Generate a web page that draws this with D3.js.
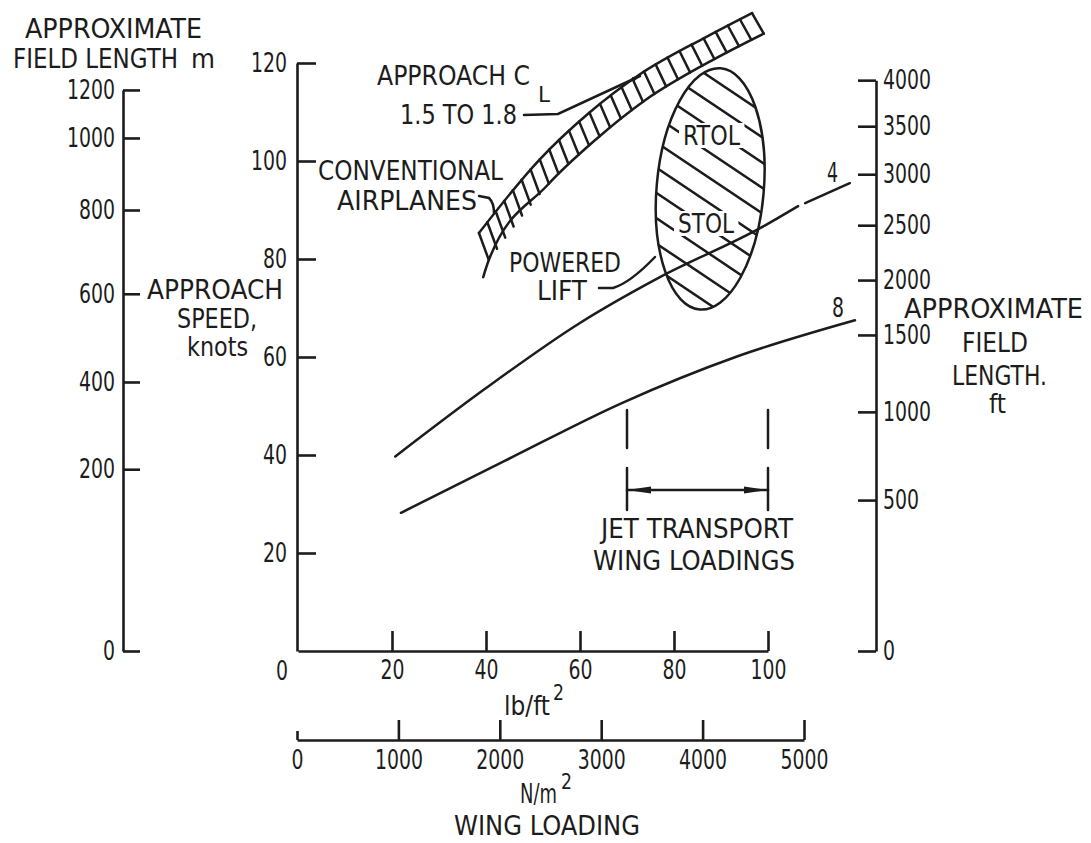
<!DOCTYPE html>
<html>
<head>
<meta charset="utf-8">
<title>Approach speed and field length vs wing loading</title>
<script src="https://cdn.jsdelivr.net/npm/d3@7/dist/d3.min.js"></script>
<style>
  body { margin: 0; background: #fff; }
  svg { display: block; background: #fff; }
  text { font-family: "DejaVu Sans Condensed", "Liberation Sans", sans-serif; fill: #1c1c1c; }
  .axis path, .axis line { stroke: #1c1c1c; stroke-width: 2.6; }
  .axis text { font-size: 27px; font-family: "DejaVu Sans Condensed", "Liberation Sans", sans-serif; }
  .lbl { font-size: 27px; }
  .ink { fill: none; stroke: #1c1c1c; stroke-width: 2.5; stroke-linecap: round; }
</style>
</head>
<body>
<svg id="chart" width="1091" height="843"></svg>
<script>
// approach speed (knots) and wing loading (lb/ft2, N/m2) ticks
var speedTicks = [20, 40, 60, 80, 100, 120];
var lbTicks = [20, 40, 60, 80, 100];
var nmTicks = [0, 1000, 2000, 3000, 4000, 5000];

// field length ticks, with the approach speed each one lines up with
var fieldM = [0, 200, 400, 600, 800, 1000, 1200];
var fieldMKnots = [0, 37.1, 54.9, 72.9, 90, 104.7, 114.5];
var fieldFt = [0, 500, 1000, 1500, 2000, 2500, 3000, 3500, 4000];
var fieldFtKnots = [0, 30.8, 48.8, 64.5, 75.7, 86.9, 97.3, 107.1, 116.5];

// curve "4" (drawn in two pieces, there is a break near 107 lb/ft2)
var load4a = [20.7, 39.5, 59.9, 77, 98.7, 106.4];
var speed4a = [39.7, 53.3, 66.9, 76.3, 86.5, 90.8];
var load4b = [107.9, 117.4];
var speed4b = [91.4, 95.5];
// curve "8"
var load8 = [21.9, 44.4, 68.9, 93.4, 118.5];
var speed8 = [28.2, 39, 50.6, 60.1, 67.5];

// conventional airplanes band, approach CL 1.5 (upper edge) and 1.8 (lower edge)
var loadCL15 = [38.5, 51.3, 61.9, 72.6, 86.8, 96.6];
var speedCL15 = [85.3, 100.2, 109.8, 117.6, 125.3, 130.2];
var loadCL18 = [39.4, 40.6, 53, 63.5, 74, 88, 99.1];
var speedCL18 = [76.3, 79.8, 95, 104.5, 112.5, 120.5, 126];

// powered lift region: centre and half sizes (lb/ft2, knots)
var liftCenter = [87.7, 94.3];
var liftHalf = [11.4, 24.7];

// jet transport wing loadings
var jetRange = [70, 100];

var svg = d3.select("#chart");
var defs = svg.append("defs");

var x = d3.scaleLinear().domain([0, 100]).range([298, 768]);
var y = d3.scaleLinear().domain([0, 120]).range([651, 63]);
var xN = d3.scaleLinear().domain([0, 5000]).range([297, 804]);
var yM = d3.scaleLinear().domain(fieldM).range(fieldMKnots.map(y));
var yFt = d3.scaleLinear().domain(fieldFt).range(fieldFtKnots.map(y));

// the lettering on the original is narrow, so squeeze glyphs to the measured width
function squeeze(sel, w) {
  sel.attr("textLength", w).attr("lengthAdjust", "spacingAndGlyphs");
}
function cleanAxis(g) {
  g.attr("font-size", null).attr("font-family", null);
  g.selectAll("text").each(function(d) {
    squeeze(d3.select(this), String(d).length * 12);
  });
}

// main speed axis
svg.append("g").attr("class", "axis").attr("transform", "translate(297,0)")
  .call(d3.axisLeft(y).tickValues(speedTicks).tickFormat(d3.format("d"))
    .tickSizeInner(-19).tickSizeOuter(0).tickPadding(10))
  .call(cleanAxis);

// field length, metres
svg.append("g").attr("class", "axis").attr("transform", "translate(123,0)")
  .call(d3.axisLeft(yM).tickValues(fieldM).tickFormat(d3.format("d"))
    .tickSizeInner(-17).tickSizeOuter(0).tickPadding(8))
  .call(cleanAxis);

// field length, feet
svg.append("g").attr("class", "axis").attr("transform", "translate(876,0)")
  .call(d3.axisRight(yFt).tickValues(fieldFt).tickFormat(d3.format("d"))
    .tickSizeInner(-18).tickSizeOuter(0).tickPadding(7))
  .call(cleanAxis);

// wing loading lb/ft2
svg.append("g").attr("class", "axis").attr("transform", "translate(0,651)")
  .call(d3.axisBottom(x).tickValues(lbTicks).tickFormat(d3.format("d"))
    .tickSizeInner(-20).tickSizeOuter(0).tickPadding(9))
  .call(cleanAxis);
svg.append("text").attr("x", x(0) - 16).attr("y", 680)
  .attr("text-anchor", "middle").style("font-size", "27px").call(squeeze, 12).text("0");

// wing loading N/m2
var nAxis = svg.append("g").attr("class", "axis").attr("transform", "translate(0,740)")
  .call(d3.axisBottom(xN).tickValues(nmTicks).tickFormat(d3.format("d"))
    .tickSizeInner(-20).tickSizeOuter(0).tickPadding(10))
  .call(cleanAxis);
nAxis.selectAll(".tick line").filter(function(d) { return d === 0; }).attr("y2", -9);

// curves
var line = d3.line().x(function(d) { return x(d[0]); }).y(function(d) { return y(d[1]); })
  .curve(d3.curveMonotoneX);
function pairs(xs, ys) { return xs.map(function(v, i) { return [v, ys[i]]; }); }

svg.append("path").attr("class", "ink").attr("d", line(pairs(load4a, speed4a)));
svg.append("path").attr("class", "ink").attr("d", line(pairs(load4b, speed4b)));
svg.append("path").attr("class", "ink").attr("d", line(pairs(load8, speed8)));

// conventional band
var upper = pairs(loadCL15, speedCL15);
var lower = pairs(loadCL18, speedCL18);
var upPath = svg.append("path").attr("class", "ink").attr("stroke-width", 2.8).attr("d", line(upper));
svg.append("path").attr("class", "ink").attr("stroke-width", 2.8).attr("d", line(lower));
var lowBand = svg.append("path").attr("d", line(lower.slice(1))).attr("fill", "none").attr("stroke", "none");
var uNode = upPath.node(), lNode = lowBand.node();
var uLen = uNode.getTotalLength(), lLen = lNode.getTotalLength();
var nStripes = 26;
for (var i = 0; i <= nStripes; i++) {
  var f = i / nStripes;
  var p = uNode.getPointAtLength(f * uLen);
  var q = lNode.getPointAtLength(f * lLen);
  svg.append("line").attr("class", "ink").attr("stroke-width", (i === 0 || i === nStripes) ? 2.6 : 2)
    .attr("x1", p.x).attr("y1", p.y).attr("x2", q.x).attr("y2", q.y);
}

// powered lift ellipse
var cx = x(liftCenter[0]), cy = y(liftCenter[1]);
var rx = x(liftCenter[0] + liftHalf[0]) - cx;
var ry = cy - y(liftCenter[1] + liftHalf[1]);
var ell = svg.append("g").attr("transform", "rotate(5," + cx + "," + cy + ")");
defs.append("clipPath").attr("id", "liftClip")
  .append("ellipse").attr("cx", cx).attr("cy", cy).attr("rx", rx).attr("ry", ry);
var hatch = ell.append("g").attr("clip-path", "url(#liftClip)");
for (var k = -6; k <= 6; k++) {
  var off = k * 24;
  hatch.append("line").attr("class", "ink").attr("stroke-width", 1.9)
    .attr("x1", cx - 90).attr("y1", cy + off - 0.55 * 90 - 10)
    .attr("x2", cx + 90).attr("y2", cy + off + 0.55 * 90 - 10);
}
ell.append("ellipse").attr("class", "ink").attr("stroke-width", 2.8)
  .attr("cx", cx).attr("cy", cy).attr("rx", rx).attr("ry", ry);

function label(txt, tx, ty, anchor, w, size) {
  var t = svg.append("text").attr("class", "lbl").attr("x", tx).attr("y", ty)
    .attr("text-anchor", anchor || "start")
    .style("font-size", (size || 27) + "px")
    .text(txt);
  if (w) t.call(squeeze, w);
  return t;
}
// text with a raised or lowered tail, kept as one text element
function withTail(main, tail, tx, ty, w, tailW, shift) {
  var t = svg.append("text").attr("class", "lbl").attr("x", tx).attr("y", ty);
  t.append("tspan").call(squeeze, w).text(main);
  t.append("tspan").attr("dx", shift[0]).attr("dy", shift[1])
    .style("font-size", "21px").call(squeeze, tailW).text(tail);
  return t;
}
function boxed(txt, tx, ty, w) {
  var t = label(txt, tx, ty, "start", w);
  var b = t.node().getBBox();
  svg.insert("rect", function() { return t.node(); })
    .attr("x", b.x - 4).attr("y", b.y + 3).attr("width", b.width + 8).attr("height", b.height - 6)
    .attr("fill", "#fff");
}
boxed("RTOL", 683, 145, 57);
boxed("STOL", 678, 233, 56);

// leaders and arrows
defs.append("marker").attr("id", "arr").attr("viewBox", "0 0 10 10")
  .attr("refX", 9).attr("refY", 5).attr("markerWidth", 9).attr("markerHeight", 7)
  .attr("markerUnits", "userSpaceOnUse").attr("orient", "auto-start-reverse")
  .attr("preserveAspectRatio", "none")
  .append("path").attr("d", "M0,1.5L10,5L0,8.5Z").attr("fill", "#1c1c1c");
defs.append("marker").attr("id", "arr2").attr("viewBox", "0 0 10 10")
  .attr("refX", 10).attr("refY", 5).attr("markerWidth", 24).attr("markerHeight", 10)
  .attr("markerUnits", "userSpaceOnUse").attr("orient", "auto-start-reverse")
  .attr("preserveAspectRatio", "none")
  .append("path").attr("d", "M0,1.5L10,5L0,8.5Z").attr("fill", "#1c1c1c");

svg.append("path").attr("class", "ink").attr("stroke-width", 1.8)
  .attr("d", "M524,115L558,114L640,76").attr("marker-end", "url(#arr)");
svg.append("path").attr("class", "ink").attr("stroke-width", 1.8)
  .attr("d", "M479,196L489,198Q494,203 494,213");
svg.append("path").attr("class", "ink").attr("stroke-width", 1.8)
  .attr("d", "M599,288L613,288Q630,283 655,257");

// jet transport range
jetRange.forEach(function(v) {
  svg.append("line").attr("class", "ink").attr("stroke-width", 1.6)
    .attr("x1", x(v)).attr("x2", x(v)).attr("y1", 410).attr("y2", 448);
  svg.append("line").attr("class", "ink").attr("stroke-width", 1.6)
    .attr("x1", x(v)).attr("x2", x(v)).attr("y1", 468).attr("y2", 510);
});
svg.append("line").attr("class", "ink").attr("stroke-width", 1.8)
  .attr("x1", x(jetRange[0])).attr("x2", x(jetRange[1])).attr("y1", 490).attr("y2", 490)
  .attr("marker-start", "url(#arr2)").attr("marker-end", "url(#arr2)");

// text
label("APPROXIMATE", 25, 38, "start", 177);
label("FIELD LENGTH", 13, 68, "start", 165);
label("m", 191, 68, "start", 24);
label("APPROACH", 147, 299, "start", 136);
label("SPEED,", 177, 328, "start", 80, 26);
label("knots", 187, 356, "start", 61, 26);
label("APPROXIMATE", 904, 318, "start", 179, 26);
label("FIELD", 962, 352, "start", 66);
label("LENGTH.", 952, 385, "start", 95);
label("ft", 989, 413, "start", 17);
withTail("APPROACH C", "L", 377, 85, 153, 12, [8, 17]);
label("1.5 TO 1.8", 400, 124, "start", 117);
label("CONVENTIONAL", 318, 180, "start", 185);
label("AIRPLANES", 337, 210, "start", 140);
label("POWERED", 509, 272, "start", 112);
label("LIFT", 537, 300, "start", 50);
label("4", 827, 182, "start", 11);
label("8", 832, 317, "start", 12);
label("JET TRANSPORT", 601, 538, "start", 192);
label("WING LOADINGS", 593, 570, "start", 202);
withTail("lb/ft", "2", 504, 715, 46, 11, [3, -15]);
withTail("N/m", "2", 520, 803, 37, 11, [4, -14]);
label("WING LOADING", 454, 835, "start", 186);
</script>
</body>
</html>
